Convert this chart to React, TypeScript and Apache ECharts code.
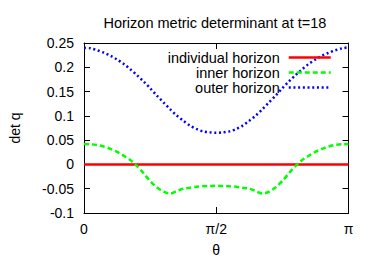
import React, { useEffect, useRef } from "react";
import * as echarts from "echarts";

const titleText = "Horizon metric determinant at t=18";
const seriesNames = ["individual horizon", "inner horizon", "outer horizon"];
const xTickLabels = ["0", "π/2", "π"];

// theta as fraction of π
const thetaFrac = [
  0, 0.025, 0.05, 0.075, 0.1, 0.125, 0.15, 0.175, 0.2, 0.225, 0.25, 0.275, 0.3, 0.325, 0.35, 0.375, 0.4, 0.425, 0.45, 0.475,
  0.5, 0.525, 0.55, 0.575, 0.6, 0.625, 0.65, 0.675, 0.7, 0.725, 0.75, 0.775, 0.8, 0.825, 0.85, 0.875, 0.9, 0.925, 0.95, 0.975, 1,
];

const individualValues = [
  0, 0, 0, 0, 0, 0, 0, 0, 0, 0, 0, 0, 0, 0, 0, 0, 0, 0, 0, 0,
  0, 0, 0, 0, 0, 0, 0, 0, 0, 0, 0, 0, 0, 0, 0, 0, 0, 0, 0, 0, 0,
];

const innerValues = [
  0.042, 0.0415, 0.04, 0.037, 0.032, 0.026, 0.018, 0.009, -0.003, -0.018, -0.034, -0.047, -0.056, -0.06, -0.055, -0.05, -0.048, -0.046, -0.045, -0.0445,
  -0.044, -0.0445, -0.045, -0.046, -0.048, -0.05, -0.055, -0.06, -0.056, -0.047, -0.034, -0.018, -0.003, 0.009, 0.018, 0.026, 0.032, 0.037, 0.04, 0.0415, 0.042,
];

const outerValues = [
  0.24, 0.239, 0.235, 0.23, 0.224, 0.216, 0.207, 0.196, 0.184, 0.171, 0.157, 0.142, 0.128, 0.114, 0.101, 0.09, 0.08, 0.073, 0.068, 0.066,
  0.065, 0.066, 0.068, 0.073, 0.08, 0.09, 0.101, 0.114, 0.128, 0.142, 0.157, 0.171, 0.184, 0.196, 0.207, 0.216, 0.224, 0.23, 0.235, 0.239, 0.241,
];

const FONT = "Liberation Sans, Arial, Helvetica, sans-serif";

export default function App() {
  const ref = useRef<HTMLDivElement>(null);
  useEffect(() => {
    if (!ref.current) return;
    const chart = echarts.init(ref.current, undefined, { renderer: "svg" });
    const toPts = (vals: number[]) => thetaFrac.map((f, i) => [f * Math.PI, vals[i]]);
    const xFmt = (v: number) => xTickLabels[Math.round(v / (Math.PI / 2))] ?? "";
    const baseX = {
      type: "value" as const,
      min: 0,
      max: Math.PI,
      interval: Math.PI / 2,
      splitLine: { show: false },
      axisLine: { show: true, onZero: false, lineStyle: { color: "#000", width: 1 } },
      axisTick: { show: true, inside: true, length: 6, lineStyle: { color: "#000" } },
    };
    const baseY = {
      type: "value" as const,
      min: -0.1,
      max: 0.25,
      interval: 0.05,
      splitLine: { show: false },
      axisLine: { show: true, onZero: false, lineStyle: { color: "#000", width: 1 } },
      axisTick: { show: true, inside: true, length: 6, lineStyle: { color: "#000" } },
    };
    chart.setOption({
      animation: false,
      backgroundColor: "#fff",
      textStyle: { fontFamily: FONT },
      title: {
        text: titleText,
        left: 103.5,
        top: 15,
        padding: 0,
        textStyle: { fontFamily: FONT, fontSize: 14.5, fontWeight: "normal", color: "#000" },
      },
      legend: {
        orient: "vertical",
        align: "right",
        right: 42,
        top: 50,
        padding: 0,
        itemGap: 0,
        itemWidth: 42,
        itemHeight: 10,
        itemStyle: { color: "transparent", borderWidth: 0, opacity: 0 },
        lineStyle: { width: 2.5 },
        textStyle: { fontFamily: FONT, fontSize: 14.5, color: "#000", lineHeight: 14.5, padding: [0, 4, 0, 0] },
        data: seriesNames,
      },
      grid: { left: 83, right: 25.5, top: 43, bottom: 44.5, containLabel: false },
      xAxis: [
        {
          ...baseX,
          position: "bottom",
          name: "θ",
          nameLocation: "middle",
          nameGap: 30,
          nameTextStyle: { fontFamily: FONT, fontSize: 14, color: "#000" },
          axisLabel: { show: true, formatter: xFmt, margin: 9, fontFamily: FONT, fontSize: 14, color: "#000" },
        },
        { ...baseX, position: "top", axisLabel: { show: false } },
      ],
      yAxis: [
        {
          ...baseY,
          position: "left",
          name: "det q",
          nameLocation: "middle",
          nameGap: 62,
          nameRotate: 90,
          nameTextStyle: { fontFamily: FONT, fontSize: 14, color: "#000" },
          axisLabel: { show: true, margin: 10, fontFamily: FONT, fontSize: 14, color: "#000" },
        },
        { ...baseY, position: "right", axisLabel: { show: false } },
      ],
      series: [
        {
          name: seriesNames[0],
          type: "line",
          data: toPts(individualValues),
          symbol: "none",
          color: "#ff0000",
          lineStyle: { color: "#ff0000", width: 2.5 },
        },
        {
          name: seriesNames[1],
          type: "line",
          data: toPts(innerValues),
          symbol: "none",
          smooth: 0.3,
          color: "#00ff00",
          lineStyle: { color: "#00ff00", width: 2.5, type: [5, 3] },
        },
        {
          name: seriesNames[2],
          type: "line",
          data: toPts(outerValues),
          symbol: "none",
          smooth: 0.3,
          color: "#0000ff",
          lineStyle: { color: "#0000ff", width: 2.5, type: [2, 2.7] },
        },
      ],
    });
    return () => chart.dispose();
  }, []);
  return <div ref={ref} style={{ position: "fixed", left: 0, top: 0, width: 374, height: 262 }} />;
}
